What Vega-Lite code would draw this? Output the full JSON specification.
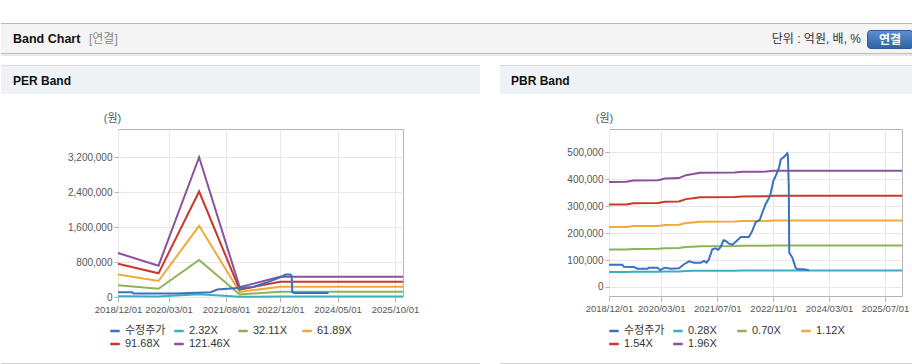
{
  "$schema": "https://vega.github.io/schema/vega-lite/v6.json",
  "background": "#ffffff",
  "padding": 0,
  "autosize": {"type": "pad"},
  "bounds": "flush",
  "spacing": 206,
  "resolve": {"scale": {"color": "independent"}, "legend": {"color": "independent"}},
  "config": {
    "font": "Liberation Sans, Noto Sans CJK KR, sans-serif",
    "view": {"stroke": "#b4b4b4", "strokeWidth": 1},
    "axis": {"labelFont": "Liberation Sans, Noto Sans CJK KR, sans-serif", "labelColor": "#555555", "labelFontSize": 10, "tickColor": "#b4b4b4", "tickSize": 4, "gridColor": "#e8e8e8", "domain": false, "labelPadding": 2, "titleFontWeight": "normal", "labelOverlap": false},
    "legend": {"labelFont": "Liberation Sans, Noto Sans CJK KR, sans-serif"},
    "text": {"font": "Liberation Sans, Noto Sans CJK KR, sans-serif"}
  },
  "datasets": {
    "perBands": [
      {"date": "2018-12-01", "series": "2.32X", "value": 19210},
      {"date": "2019-12-01", "series": "2.32X", "value": 13688},
      {"date": "2020-12-01", "series": "2.32X", "value": 61016},
      {"date": "2021-12-01", "series": "2.32X", "value": 4292},
      {"date": "2022-12-01", "series": "2.32X", "value": 8816},
      {"date": "2025-12-12", "series": "2.32X", "value": 8816},
      {"date": "2018-12-01", "series": "32.11X", "value": 265871},
      {"date": "2019-12-01", "series": "32.11X", "value": 189449},
      {"date": "2020-12-01", "series": "32.11X", "value": 844493},
      {"date": "2021-12-01", "series": "32.11X", "value": 59404},
      {"date": "2022-12-01", "series": "32.11X", "value": 122018},
      {"date": "2025-12-12", "series": "32.11X", "value": 122018},
      {"date": "2018-12-01", "series": "61.89X", "value": 512449},
      {"date": "2019-12-01", "series": "61.89X", "value": 365151},
      {"date": "2020-12-01", "series": "61.89X", "value": 1627707},
      {"date": "2021-12-01", "series": "61.89X", "value": 114497},
      {"date": "2022-12-01", "series": "61.89X", "value": 235182},
      {"date": "2025-12-12", "series": "61.89X", "value": 235182},
      {"date": "2018-12-01", "series": "91.68X", "value": 759110},
      {"date": "2019-12-01", "series": "91.68X", "value": 540912},
      {"date": "2020-12-01", "series": "91.68X", "value": 2411184},
      {"date": "2021-12-01", "series": "91.68X", "value": 169608},
      {"date": "2022-12-01", "series": "91.68X", "value": 348384},
      {"date": "2025-12-12", "series": "91.68X", "value": 348384},
      {"date": "2018-12-01", "series": "121.46X", "value": 1005689},
      {"date": "2019-12-01", "series": "121.46X", "value": 716614},
      {"date": "2020-12-01", "series": "121.46X", "value": 3194398},
      {"date": "2021-12-01", "series": "121.46X", "value": 224701},
      {"date": "2022-12-01", "series": "121.46X", "value": 461548},
      {"date": "2025-12-12", "series": "121.46X", "value": 461548}
    ],
    "perPrice": [
      {"date": "2018-12-01", "series": "수정주가", "value": 110000},
      {"date": "2019-04-08", "series": "수정주가", "value": 110000},
      {"date": "2019-04-20", "series": "수정주가", "value": 78000},
      {"date": "2020-05-18", "series": "수정주가", "value": 78000},
      {"date": "2020-09-01", "series": "수정주가", "value": 90000},
      {"date": "2021-03-14", "series": "수정주가", "value": 110000},
      {"date": "2021-05-14", "series": "수정주가", "value": 169000},
      {"date": "2021-11-11", "series": "수정주가", "value": 205000},
      {"date": "2022-04-01", "series": "수정주가", "value": 230000},
      {"date": "2022-08-01", "series": "수정주가", "value": 330000},
      {"date": "2022-12-07", "series": "수정주가", "value": 457000},
      {"date": "2023-01-20", "series": "수정주가", "value": 512000},
      {"date": "2023-03-03", "series": "수정주가", "value": 512000},
      {"date": "2023-03-15", "series": "수정주가", "value": 480000},
      {"date": "2023-03-20", "series": "수정주가", "value": 110000},
      {"date": "2023-04-05", "series": "수정주가", "value": 91000},
      {"date": "2024-02-10", "series": "수정주가", "value": 91000}
    ],
    "pbrBands": [
      {"date": "2018-12-01", "series": "0.28X", "value": 55720},
      {"date": "2019-05-01", "series": "0.28X", "value": 55804},
      {"date": "2019-07-01", "series": "0.28X", "value": 56560},
      {"date": "2020-02-01", "series": "0.28X", "value": 56700},
      {"date": "2020-04-01", "series": "0.28X", "value": 57540},
      {"date": "2020-08-01", "series": "0.28X", "value": 57820},
      {"date": "2020-10-01", "series": "0.28X", "value": 59360},
      {"date": "2020-12-01", "series": "0.28X", "value": 59920},
      {"date": "2021-02-01", "series": "0.28X", "value": 60620},
      {"date": "2021-12-01", "series": "0.28X", "value": 60760},
      {"date": "2022-02-01", "series": "0.28X", "value": 61180},
      {"date": "2022-09-01", "series": "0.28X", "value": 61236},
      {"date": "2022-11-01", "series": "0.28X", "value": 61684},
      {"date": "2025-11-26", "series": "0.28X", "value": 61684},
      {"date": "2018-12-01", "series": "0.70X", "value": 139300},
      {"date": "2019-05-01", "series": "0.70X", "value": 139510},
      {"date": "2019-07-01", "series": "0.70X", "value": 141400},
      {"date": "2020-02-01", "series": "0.70X", "value": 141750},
      {"date": "2020-04-01", "series": "0.70X", "value": 143850},
      {"date": "2020-08-01", "series": "0.70X", "value": 144550},
      {"date": "2020-10-01", "series": "0.70X", "value": 148400},
      {"date": "2020-12-01", "series": "0.70X", "value": 149800},
      {"date": "2021-02-01", "series": "0.70X", "value": 151550},
      {"date": "2021-12-01", "series": "0.70X", "value": 151900},
      {"date": "2022-02-01", "series": "0.70X", "value": 152950},
      {"date": "2022-09-01", "series": "0.70X", "value": 153090},
      {"date": "2022-11-01", "series": "0.70X", "value": 154210},
      {"date": "2025-11-26", "series": "0.70X", "value": 154210},
      {"date": "2018-12-01", "series": "1.12X", "value": 222880},
      {"date": "2019-05-01", "series": "1.12X", "value": 223216},
      {"date": "2019-07-01", "series": "1.12X", "value": 226240},
      {"date": "2020-02-01", "series": "1.12X", "value": 226800},
      {"date": "2020-04-01", "series": "1.12X", "value": 230160},
      {"date": "2020-08-01", "series": "1.12X", "value": 231280},
      {"date": "2020-10-01", "series": "1.12X", "value": 237440},
      {"date": "2020-12-01", "series": "1.12X", "value": 239680},
      {"date": "2021-02-01", "series": "1.12X", "value": 242480},
      {"date": "2021-12-01", "series": "1.12X", "value": 243040},
      {"date": "2022-02-01", "series": "1.12X", "value": 244720},
      {"date": "2022-09-01", "series": "1.12X", "value": 244944},
      {"date": "2022-11-01", "series": "1.12X", "value": 246736},
      {"date": "2025-11-26", "series": "1.12X", "value": 246736},
      {"date": "2018-12-01", "series": "1.54X", "value": 306460},
      {"date": "2019-05-01", "series": "1.54X", "value": 306922},
      {"date": "2019-07-01", "series": "1.54X", "value": 311080},
      {"date": "2020-02-01", "series": "1.54X", "value": 311850},
      {"date": "2020-04-01", "series": "1.54X", "value": 316470},
      {"date": "2020-08-01", "series": "1.54X", "value": 318010},
      {"date": "2020-10-01", "series": "1.54X", "value": 326480},
      {"date": "2020-12-01", "series": "1.54X", "value": 329560},
      {"date": "2021-02-01", "series": "1.54X", "value": 333410},
      {"date": "2021-12-01", "series": "1.54X", "value": 334180},
      {"date": "2022-02-01", "series": "1.54X", "value": 336490},
      {"date": "2022-09-01", "series": "1.54X", "value": 336798},
      {"date": "2022-11-01", "series": "1.54X", "value": 339262},
      {"date": "2025-11-26", "series": "1.54X", "value": 339262},
      {"date": "2018-12-01", "series": "1.96X", "value": 390040},
      {"date": "2019-05-01", "series": "1.96X", "value": 390628},
      {"date": "2019-07-01", "series": "1.96X", "value": 395920},
      {"date": "2020-02-01", "series": "1.96X", "value": 396900},
      {"date": "2020-04-01", "series": "1.96X", "value": 402780},
      {"date": "2020-08-01", "series": "1.96X", "value": 404740},
      {"date": "2020-10-01", "series": "1.96X", "value": 415520},
      {"date": "2020-12-01", "series": "1.96X", "value": 419440},
      {"date": "2021-02-01", "series": "1.96X", "value": 424340},
      {"date": "2021-12-01", "series": "1.96X", "value": 425320},
      {"date": "2022-02-01", "series": "1.96X", "value": 428260},
      {"date": "2022-09-01", "series": "1.96X", "value": 428652},
      {"date": "2022-11-01", "series": "1.96X", "value": 431788},
      {"date": "2025-11-26", "series": "1.96X", "value": 431788}
    ],
    "pbrPrice": [
      {"date": "2018-12-01", "series": "수정주가", "value": 82900},
      {"date": "2019-03-26", "series": "수정주가", "value": 82900},
      {"date": "2019-04-10", "series": "수정주가", "value": 75500},
      {"date": "2019-07-06", "series": "수정주가", "value": 74400},
      {"date": "2019-08-05", "series": "수정주가", "value": 68000},
      {"date": "2019-11-01", "series": "수정주가", "value": 68000},
      {"date": "2019-11-15", "series": "수정주가", "value": 71800},
      {"date": "2020-01-27", "series": "수정주가", "value": 71800},
      {"date": "2020-02-19", "series": "수정주가", "value": 62100},
      {"date": "2020-03-10", "series": "수정주가", "value": 68000},
      {"date": "2020-04-07", "series": "수정주가", "value": 71800},
      {"date": "2020-05-21", "series": "수정주가", "value": 68000},
      {"date": "2020-08-02", "series": "수정주가", "value": 69500},
      {"date": "2020-09-15", "series": "수정주가", "value": 84400},
      {"date": "2020-10-28", "series": "수정주가", "value": 95500},
      {"date": "2020-12-11", "series": "수정주가", "value": 90300},
      {"date": "2021-02-08", "series": "수정주가", "value": 90300},
      {"date": "2021-03-07", "series": "수정주가", "value": 96700},
      {"date": "2021-03-30", "series": "수정주가", "value": 90300},
      {"date": "2021-04-19", "series": "수정주가", "value": 103000},
      {"date": "2021-05-19", "series": "수정주가", "value": 140200},
      {"date": "2021-06-17", "series": "수정주가", "value": 143900},
      {"date": "2021-07-07", "series": "수정주가", "value": 137600},
      {"date": "2021-07-31", "series": "수정주가", "value": 148700},
      {"date": "2021-08-24", "series": "수정주가", "value": 173600},
      {"date": "2021-09-13", "series": "수정주가", "value": 171000},
      {"date": "2021-10-11", "series": "수정주가", "value": 161000},
      {"date": "2021-11-10", "series": "수정주가", "value": 157300},
      {"date": "2021-12-09", "series": "수정주가", "value": 168400},
      {"date": "2022-01-22", "series": "수정주가", "value": 185900},
      {"date": "2022-04-03", "series": "수정주가", "value": 185900},
      {"date": "2022-05-02", "series": "수정주가", "value": 208200},
      {"date": "2022-05-31", "series": "수정주가", "value": 240000},
      {"date": "2022-07-07", "series": "수정주가", "value": 250000},
      {"date": "2022-07-28", "series": "수정주가", "value": 276200},
      {"date": "2022-08-26", "series": "수정주가", "value": 307400},
      {"date": "2022-10-04", "series": "수정주가", "value": 338300},
      {"date": "2022-11-02", "series": "수정주가", "value": 394000},
      {"date": "2022-11-22", "series": "수정주가", "value": 412600},
      {"date": "2022-12-21", "series": "수정주가", "value": 443500},
      {"date": "2023-01-05", "series": "수정주가", "value": 474700},
      {"date": "2023-02-03", "series": "수정주가", "value": 483300},
      {"date": "2023-03-03", "series": "수정주가", "value": 497000},
      {"date": "2023-03-08", "series": "수정주가", "value": 490000},
      {"date": "2023-03-16", "series": "수정주가", "value": 370000},
      {"date": "2023-03-20", "series": "수정주가", "value": 127500},
      {"date": "2023-04-16", "series": "수정주가", "value": 108900},
      {"date": "2023-05-14", "series": "수정주가", "value": 71800},
      {"date": "2023-05-29", "series": "수정주가", "value": 65800},
      {"date": "2023-07-25", "series": "수정주가", "value": 65800},
      {"date": "2023-09-07", "series": "수정주가", "value": 62100}
    ]
  },
  "hconcat": [
    {
      "width": 285,
      "height": 168,
      "layer": [
        {"data": {"values": [{}]}, "mark": {"type": "rect", "fill": "#ffffff"}, "encoding": {"x": {"value": -117}, "x2": {"value": 795}, "y": {"value": -128}, "y2": {"value": -106}}},
        {"data": {"values": [{}]}, "mark": {"type": "rect", "fill": "#b9b9b9"}, "encoding": {"x": {"value": -117}, "x2": {"value": 795}, "y": {"value": -106}, "y2": {"value": -105}}},
        {"data": {"values": [{}]}, "mark": {"type": "rect", "fill": "#f4f4f4"}, "encoding": {"x": {"value": -117}, "x2": {"value": 795}, "y": {"value": -105}, "y2": {"value": -76}}},
        {"data": {"values": [{}]}, "mark": {"type": "rect", "fill": "#bdbdbd"}, "encoding": {"x": {"value": -117}, "x2": {"value": 795}, "y": {"value": -76}, "y2": {"value": -75}}},
        {"data": {"values": [{}]}, "mark": {"type": "rect", "fill": "#e8e8e8"}, "encoding": {"x": {"value": -117}, "x2": {"value": 795}, "y": {"value": -75}, "y2": {"value": -73}}},
        {"data": {"values": [{}]}, "mark": {"type": "rect", "fill": "#d9d9d9"}, "encoding": {"x": {"value": -117}, "x2": {"value": 362}, "y": {"value": -64}, "y2": {"value": -63}}},
        {"data": {"values": [{}]}, "mark": {"type": "rect", "fill": "#eef2f7"}, "encoding": {"x": {"value": -117}, "x2": {"value": 362}, "y": {"value": -63}, "y2": {"value": -35}}},
        {"data": {"values": [{}]}, "mark": {"type": "rect", "fill": "#d0d0d0"}, "encoding": {"x": {"value": -117}, "x2": {"value": 362}, "y": {"value": 234}, "y2": {"value": 236}}},
        {"data": {"values": [{}]}, "mark": {"type": "rect", "cornerRadius": 3, "stroke": "#2c5a98", "strokeWidth": 1, "fill": {"gradient": "linear", "x1": 0, "y1": 0, "x2": 0, "y2": 1, "stops": [{"offset": 0, "color": "#5d8fd2"}, {"offset": 1, "color": "#2f62a6"}]}}, "encoding": {"x": {"value": 749.5}, "x2": {"value": 795}, "y": {"value": -98.5}, "y2": {"value": -80.5}}},
        {"data": {"values": [{}]}, "mark": {"type": "text", "text": "Band Chart", "align": "left", "baseline": "middle", "fontSize": 12.5, "fontWeight": "bold", "color": "#111111"}, "encoding": {"x": {"value": -105}, "y": {"value": -90}}},
        {"data": {"values": [{}]}, "mark": {"type": "text", "text": "[연결]", "align": "left", "baseline": "middle", "fontSize": 12, "color": "#8a8a8a"}, "encoding": {"x": {"value": -29}, "y": {"value": -90}}},
        {"data": {"values": [{}]}, "mark": {"type": "text", "text": "단위 : 억원, 배, %", "align": "right", "baseline": "middle", "fontSize": 12, "color": "#333333"}, "encoding": {"x": {"value": 743}, "y": {"value": -90}}},
        {"data": {"values": [{}]}, "mark": {"type": "text", "text": "연결", "align": "center", "baseline": "middle", "fontSize": 12, "fontWeight": "bold", "color": "#ffffff"}, "encoding": {"x": {"value": 772}, "y": {"value": -89.5}}},
        {"data": {"values": [{}]}, "mark": {"type": "text", "text": "PER Band", "align": "left", "baseline": "middle", "fontSize": 12, "fontWeight": "bold", "color": "#111111"}, "encoding": {"x": {"value": -105}, "y": {"value": -48}}},
        {
          "data": {"name": "perBands"},
          "mark": {"type": "line", "strokeWidth": 2},
          "encoding": {
            "x": {"field": "date", "type": "temporal", "scale": {"type": "utc", "nice": false, "domain": [{"year": 2018, "month": 12, "date": 1, "utc": true}, {"year": 2025, "month": 12, "date": 12, "utc": true}]}, "axis": {"title": null, "format": "%Y/%m/%d", "labelFontSize": 9.5, "tickSize": 5, "tickCount": 12, "labelPadding": 2, "labelOverlap": false, "labelFlush": false, "labelBound": false, "values": [{"year": 2018, "month": 12, "date": 1, "utc": true}, {"year": 2020, "month": 3, "date": 1, "utc": true}, {"year": 2021, "month": 8, "date": 1, "utc": true}, {"year": 2022, "month": 12, "date": 1, "utc": true}, {"year": 2024, "month": 5, "date": 1, "utc": true}, {"year": 2025, "month": 10, "date": 1, "utc": true}]}},
            "y": {"field": "value", "type": "quantitative", "scale": {"domain": [0, 3840000], "nice": false, "zero": false}, "axis": {"values": [0, 800000, 1600000, 2400000, 3200000], "tickCount": 12, "format": ",.0f", "labelOverlap": false, "title": "(원)", "titleAngle": 0, "titleX": -6, "titleY": -11, "titleAlign": "center", "titleBaseline": "middle", "titleFontSize": 11, "titleColor": "#555555", "titleFontWeight": "normal"}},
            "color": {"field": "series", "type": "nominal", "scale": {"domain": ["수정주가", "2.32X", "32.11X", "61.89X", "91.68X", "121.46X"], "range": ["#3a72c0", "#3aaec2", "#8db356", "#f0a93a", "#c9382d", "#8c519b"]}, "legend": {"title": null, "orient": "none", "legendX": -9, "legendY": 196, "columns": 4, "direction": "horizontal", "symbolType": "stroke", "symbolSize": 90, "symbolStrokeWidth": 2.5, "labelFontSize": 11, "labelColor": "#333333", "labelOffset": 4, "columnPadding": 3, "rowPadding": 2, "gridAlign": "all", "padding": 0}}
          }
        },
        {
          "data": {"name": "perPrice"},
          "mark": {"type": "line", "strokeWidth": 2},
          "encoding": {
            "x": {"field": "date", "type": "temporal"},
            "y": {"field": "value", "type": "quantitative"},
            "color": {"field": "series", "type": "nominal"}
          }
        }
      ]
    },
    {
      "width": 293,
      "height": 167,
      "layer": [
        {"data": {"values": [{}]}, "mark": {"type": "rect", "fill": "#d9d9d9"}, "encoding": {"x": {"value": -109}, "x2": {"value": 304}, "y": {"value": -64}, "y2": {"value": -63}}},
        {"data": {"values": [{}]}, "mark": {"type": "rect", "fill": "#eef2f7"}, "encoding": {"x": {"value": -109}, "x2": {"value": 304}, "y": {"value": -63}, "y2": {"value": -35}}},
        {"data": {"values": [{}]}, "mark": {"type": "rect", "fill": "#d0d0d0"}, "encoding": {"x": {"value": -109}, "x2": {"value": 304}, "y": {"value": 234}, "y2": {"value": 236}}},
        {"data": {"values": [{}]}, "mark": {"type": "text", "text": "PBR Band", "align": "left", "baseline": "middle", "fontSize": 12, "fontWeight": "bold", "color": "#111111"}, "encoding": {"x": {"value": -98}, "y": {"value": -48}}},
        {
          "data": {"name": "pbrBands"},
          "mark": {"type": "line", "strokeWidth": 2},
          "encoding": {
            "x": {"field": "date", "type": "temporal", "scale": {"type": "utc", "nice": false, "domain": [{"year": 2018, "month": 12, "date": 1, "utc": true}, {"year": 2025, "month": 11, "date": 26, "utc": true}]}, "axis": {"title": null, "format": "%Y/%m/%d", "labelFontSize": 9.5, "tickSize": 5, "tickCount": 12, "labelPadding": 2, "labelOverlap": false, "labelFlush": false, "labelBound": false, "values": [{"year": 2018, "month": 12, "date": 1, "utc": true}, {"year": 2020, "month": 3, "date": 1, "utc": true}, {"year": 2021, "month": 7, "date": 1, "utc": true}, {"year": 2022, "month": 11, "date": 1, "utc": true}, {"year": 2024, "month": 3, "date": 1, "utc": true}, {"year": 2025, "month": 7, "date": 1, "utc": true}]}},
            "y": {"field": "value", "type": "quantitative", "scale": {"domain": [-33500, 587000], "nice": false, "zero": false}, "axis": {"values": [0, 100000, 200000, 300000, 400000, 500000], "tickCount": 12, "format": ",.0f", "labelOverlap": false, "title": "(원)", "titleAngle": 0, "titleX": -5, "titleY": -11, "titleAlign": "center", "titleBaseline": "middle", "titleFontSize": 11, "titleColor": "#555555", "titleFontWeight": "normal"}},
            "color": {"field": "series", "type": "nominal", "scale": {"domain": ["수정주가", "0.28X", "0.70X", "1.12X", "1.54X", "1.96X"], "range": ["#3a72c0", "#3aaec2", "#8db356", "#f0a93a", "#c9382d", "#8c519b"]}, "legend": {"title": null, "orient": "none", "legendX": -1, "legendY": 196, "columns": 4, "direction": "horizontal", "symbolType": "stroke", "symbolSize": 90, "symbolStrokeWidth": 2.5, "labelFontSize": 11, "labelColor": "#333333", "labelOffset": 4, "columnPadding": 3, "rowPadding": 2, "gridAlign": "all", "padding": 0}}
          }
        },
        {
          "data": {"name": "pbrPrice"},
          "mark": {"type": "line", "strokeWidth": 2},
          "encoding": {
            "x": {"field": "date", "type": "temporal"},
            "y": {"field": "value", "type": "quantitative"},
            "color": {"field": "series", "type": "nominal"}
          }
        }
      ]
    }
  ]
}
